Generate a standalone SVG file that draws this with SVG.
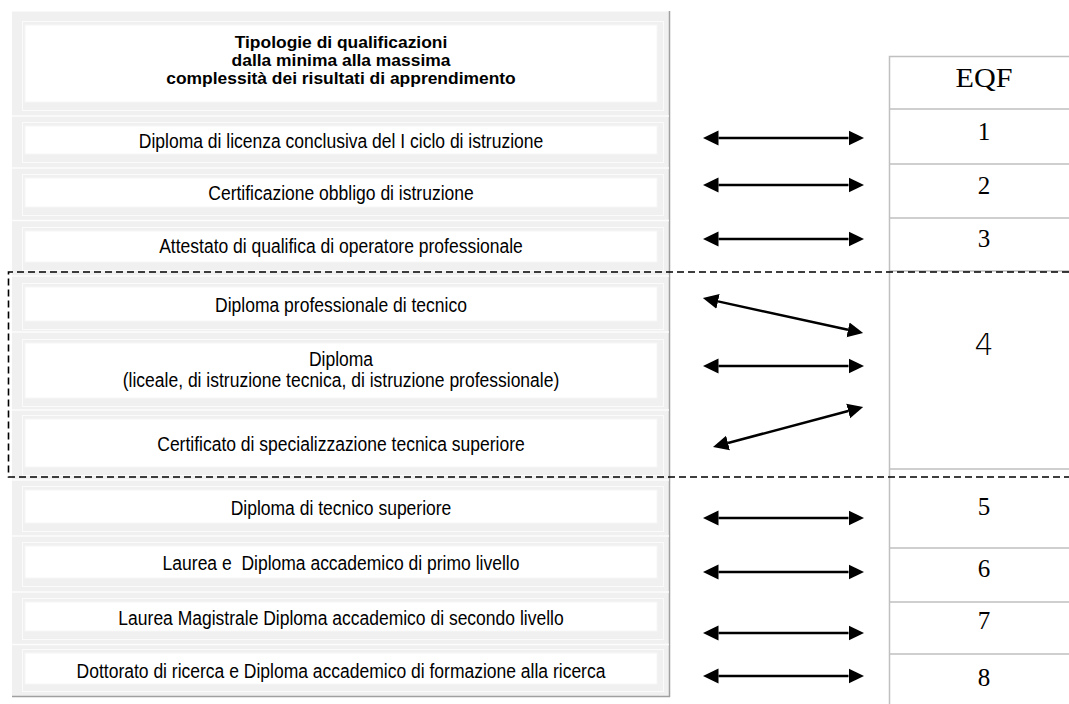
<svg xmlns="http://www.w3.org/2000/svg" width="1069" height="704" viewBox="0 0 1069 704">
<style>
.frame{fill:none;stroke:#fbfbfb;stroke-width:1}
.inner{fill:#ffffff;stroke:#f6f6f6;stroke-width:1}
.sep{stroke:#fcfcfc;stroke-width:1.5}
.lt{font-family:"Liberation Sans",Arial,sans-serif;font-size:20px;fill:#000;text-anchor:middle;white-space:pre}
.hd{font-weight:bold;font-size:16px}
.grid{stroke:#c0c0c0;stroke-width:1.5;fill:none}
.eqf{font-family:"Liberation Serif","Times New Roman",serif;font-size:25px;fill:#000;text-anchor:middle}
.arr{stroke:#000;stroke-width:2.5;fill:none;marker-start:url(#ah);marker-end:url(#ah)}
</style>
<defs>
<marker id="ah" markerUnits="userSpaceOnUse" markerWidth="16" markerHeight="16" refX="0" refY="7.5" orient="auto-start-reverse" viewBox="0 0 16 15">
<path d="M0,0 L15.5,7.5 L0,15 Z" fill="#000"/>
</marker>
</defs>
<rect width="1069" height="704" fill="#ffffff"/>

<g id="panel">
<rect x="12" y="11" width="657" height="685" fill="#f0f0f0"/>
<line x1="12" y1="11.5" x2="669" y2="11.5" stroke="#f8f8f8" stroke-width="1"/>
<line x1="669.5" y1="11" x2="669.5" y2="697" stroke="#a0a0a0" stroke-width="1.5"/>
<line x1="12" y1="696.5" x2="670" y2="696.5" stroke="#a0a0a0" stroke-width="1.5"/>
<line class="sep" x1="12" y1="116" x2="669" y2="116"/>
<line class="sep" x1="12" y1="168" x2="669" y2="168"/>
<line class="sep" x1="12" y1="220.5" x2="669" y2="220.5"/>
<line class="sep" x1="12" y1="276" x2="669" y2="276"/>
<line class="sep" x1="12" y1="332" x2="669" y2="332"/>
<line class="sep" x1="12" y1="410" x2="669" y2="410"/>
<line class="sep" x1="12" y1="480" x2="669" y2="480"/>
<line class="sep" x1="12" y1="536" x2="669" y2="536"/>
<line class="sep" x1="12" y1="592" x2="669" y2="592"/>
<line class="sep" x1="12" y1="644.5" x2="669" y2="644.5"/>
</g>

<g id="header">
<rect class="frame" x="22.5" y="21.5" width="641" height="89"/>
<rect class="inner" x="25" y="25" width="632" height="77"/>
<text class="lt hd" transform="translate(341 47.5) scale(1.09 1)">Tipologie di qualificazioni</text>
<text class="lt hd" transform="translate(341 65.7) scale(1.09 1)">dalla minima alla massima</text>
<text class="lt hd" transform="translate(341 83.9) scale(1.09 1)">complessità dei risultati di apprendimento</text>
</g>

<g id="q1">
<rect class="frame" x="22.5" y="122.5" width="641" height="40"/>
<rect class="inner" x="25" y="126" width="632" height="28"/>
<text class="lt" transform="translate(341 147.5) scale(0.875 1)">Diploma di licenza conclusiva del I ciclo di istruzione</text>
</g>
<g id="q2">
<rect class="frame" x="22.5" y="174.5" width="641" height="41"/>
<rect class="inner" x="25" y="178" width="632" height="29"/>
<text class="lt" transform="translate(341 199.5) scale(0.875 1)">Certificazione obbligo di istruzione</text>
</g>
<g id="q3">
<rect class="frame" x="22.5" y="227.5" width="641" height="43"/>
<rect class="inner" x="25" y="231" width="632" height="31"/>
<text class="lt" transform="translate(341 252.5) scale(0.875 1)">Attestato di qualifica di operatore professionale</text>
</g>
<g id="q4">
<rect class="frame" x="22.5" y="283.5" width="641" height="46"/>
<rect class="inner" x="25" y="287" width="632" height="34"/>
<text class="lt" transform="translate(341 312) scale(0.875 1)">Diploma professionale di tecnico</text>
</g>
<g id="q5">
<rect class="frame" x="22.5" y="339.5" width="641" height="67"/>
<rect class="inner" x="25" y="343" width="632" height="55"/>
<text class="lt" transform="translate(341 366) scale(0.875 1)">Diploma</text>
<text class="lt" transform="translate(341 386.5) scale(0.875 1)">(liceale, di istruzione tecnica, di istruzione professionale)</text>
</g>
<g id="q6">
<rect class="frame" x="22.5" y="415.5" width="641" height="60"/>
<rect class="inner" x="25" y="419" width="632" height="48"/>
<text class="lt" transform="translate(341 451) scale(0.875 1)">Certificato di specializzazione tecnica superiore</text>
</g>
<g id="q7">
<rect class="frame" x="22.5" y="486.5" width="641" height="45"/>
<rect class="inner" x="25" y="490" width="632" height="33"/>
<text class="lt" transform="translate(341 514.5) scale(0.875 1)">Diploma di tecnico superiore</text>
</g>
<g id="q8">
<rect class="frame" x="22.5" y="542.5" width="641" height="44"/>
<rect class="inner" x="25" y="546" width="632" height="32"/>
<text class="lt" transform="translate(341 570) scale(0.875 1)">Laurea e  Diploma accademico di primo livello</text>
</g>
<g id="q9">
<rect class="frame" x="22.5" y="598.5" width="641" height="41"/>
<rect class="inner" x="25" y="602" width="632" height="29"/>
<text class="lt" transform="translate(341 624.5) scale(0.875 1)">Laurea Magistrale Diploma accademico di secondo livello</text>
</g>
<g id="q10">
<rect class="frame" x="22.5" y="649.5" width="641" height="42"/>
<rect class="inner" x="25" y="653" width="632" height="31"/>
<text class="lt" transform="translate(341 677.5) scale(0.875 1)">Dottorato di ricerca e Diploma accademico di formazione alla ricerca</text>
</g>

<g id="eqf-grid">
<path class="grid" d="M889.5 704 V56.5 H1069 M889.5 109 H1069 M889.5 164 H1069 M889.5 218 H1069 M889.5 271 H1069 M889.5 469 H1069 M889.5 548 H1069 M889.5 602 H1069 M889.5 654 H1069"/>
</g>
<g id="eqf-head"><text class="eqf" x="984" y="86.5" style="font-size:27px" textLength="57" lengthAdjust="spacingAndGlyphs">EQF</text></g>
<g id="eqf1"><text class="eqf" x="984" y="140">1</text></g>
<g id="eqf2"><text class="eqf" x="984" y="194">2</text></g>
<g id="eqf3"><text class="eqf" x="984" y="247">3</text></g>
<g id="eqf4"><text x="984" y="355" text-anchor="middle" style="font-family:'DejaVu Sans',sans-serif;font-weight:200;font-size:30px">4</text></g>
<g id="eqf5"><text class="eqf" x="984" y="515">5</text></g>
<g id="eqf6"><text class="eqf" x="984" y="577">6</text></g>
<g id="eqf7"><text class="eqf" x="984" y="629">7</text></g>
<g id="eqf8"><text class="eqf" x="984" y="686">8</text></g>

<g id="level4-group">
<path d="M1069 272 H8.5 V477 H1069" fill="none" stroke="#000" stroke-width="1.6" stroke-dasharray="7 4"/>
</g>

<g id="connectors">
<line class="arr" x1="718.5" y1="138" x2="848.5" y2="138"/>
<line class="arr" x1="718.5" y1="185" x2="848.5" y2="185"/>
<line class="arr" x1="718.5" y1="239" x2="848.5" y2="239"/>
<line class="arr" x1="718" y1="301.4" x2="848" y2="329.8"/>
<line class="arr" x1="718.5" y1="366" x2="848.5" y2="366"/>
<line class="arr" x1="728" y1="443" x2="848.2" y2="411"/>
<line class="arr" x1="718.5" y1="518" x2="848.5" y2="518"/>
<line class="arr" x1="718.5" y1="572" x2="848.5" y2="572"/>
<line class="arr" x1="718.5" y1="633" x2="848.5" y2="633"/>
<line class="arr" x1="718.5" y1="676" x2="848.5" y2="676"/>
</g>
</svg>
